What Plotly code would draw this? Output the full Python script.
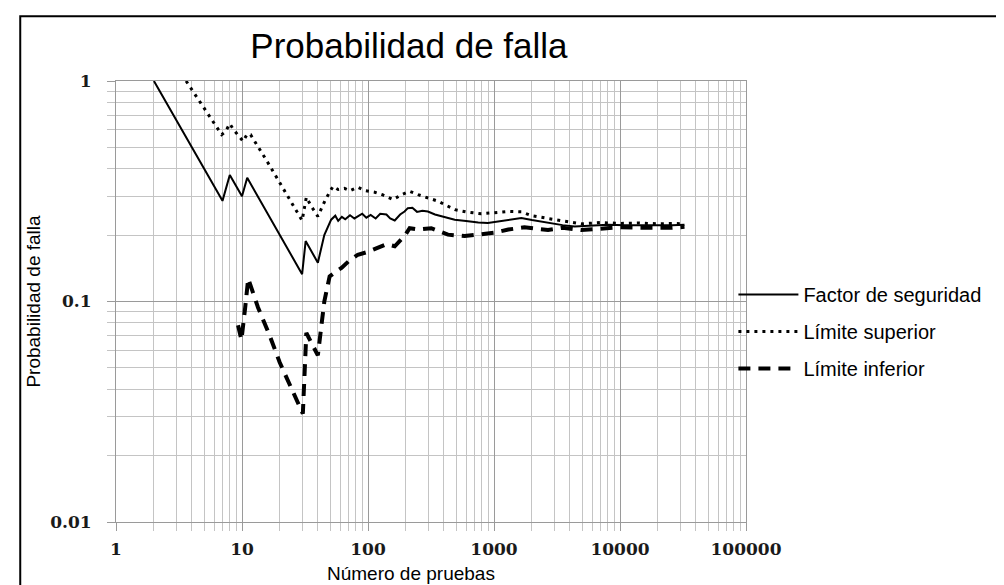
import plotly.graph_objects as go

# Factor de seguridad (estimated probability of failure)
n_fs = [2, 7, 8, 10, 11, 30, 32, 40, 45, 51, 55, 58, 62, 66, 72, 78, 83, 90, 97, 105,
        115, 125, 140, 150, 163, 180, 195, 207, 225, 245, 270, 299, 340, 400, 488, 600,
        750, 893, 1100, 1400, 1648, 2000, 2683, 3500, 4365, 6000, 8000, 11000, 15000,
        20000, 26000, 32500]
p_fs = [1.0, 0.286, 0.375, 0.30, 0.364, 0.133, 0.188, 0.150, 0.200, 0.235, 0.245, 0.232,
        0.242, 0.236, 0.246, 0.238, 0.243, 0.250, 0.240, 0.247, 0.238, 0.250, 0.248, 0.238,
        0.233, 0.248, 0.256, 0.265, 0.266, 0.255, 0.258, 0.256, 0.248, 0.242, 0.235, 0.232,
        0.228, 0.227, 0.231, 0.236, 0.239, 0.234, 0.227, 0.222, 0.219, 0.221, 0.223, 0.222,
        0.222, 0.221, 0.222, 0.223]

# Límite superior
n_sup = [3.6, 5.4, 6.45, 6.9, 7.4, 8.0, 8.6, 9.4, 10.2, 11.0, 11.7, 12.6, 15.9, 30, 32.4,
         35.5, 40, 46, 52.7, 58, 65, 72, 83, 95, 113, 130, 158, 185, 214, 250, 299, 360,
         488, 600, 793, 1000, 1300, 1648, 2000, 2683, 3500, 4936, 7000, 10000, 14000,
         20000, 26000, 32500]
p_sup = [1.0, 0.70, 0.606, 0.571, 0.59, 0.64, 0.60, 0.565, 0.533, 0.575, 0.571, 0.533,
         0.43, 0.233, 0.297, 0.27, 0.243, 0.29, 0.333, 0.322, 0.326, 0.318, 0.330, 0.318,
         0.313, 0.305, 0.29, 0.305, 0.316, 0.305, 0.296, 0.285, 0.261, 0.255, 0.25, 0.252,
         0.256, 0.255, 0.245, 0.238, 0.232, 0.225, 0.228, 0.226, 0.227, 0.225, 0.226, 0.225]

# Límite inferior
n_inf = [9.3, 9.9, 10.6, 11.2, 13.4, 16.6, 19.9, 24.6, 30.4, 32.4, 40, 45, 49.6, 55, 61.6,
         70, 83, 100, 120, 140, 163, 195, 214, 250, 318, 431, 585, 800, 1003, 1300, 1743,
         2683, 3500, 4936, 7000, 10000, 14000, 20000, 26000, 32500]
p_inf = [0.078, 0.067, 0.094, 0.127, 0.094, 0.070, 0.053, 0.040, 0.031, 0.072, 0.057, 0.100,
         0.130, 0.136, 0.142, 0.152, 0.163, 0.168, 0.175, 0.182, 0.178, 0.198, 0.215, 0.212,
         0.215, 0.201, 0.198, 0.202, 0.205, 0.212, 0.217, 0.211, 0.216, 0.211, 0.215, 0.217,
         0.216, 0.215, 0.216, 0.218]

x_ticks = [1, 10, 100, 1000, 10000, 100000]
x_labels = ["1", "10", "100", "1000", "10000", "100000"]
y_ticks = [0.01, 0.1, 1]
y_labels = ["0.01", "0.1", "1"]

SANS = "Arial, Liberation Sans, sans-serif"
SERIF = "DejaVu Serif, Liberation Serif, serif"

fig = go.Figure()
fig.add_trace(go.Scatter(x=n_fs, y=p_fs, mode="lines", name="Factor de seguridad",
                         legendgroup="a", line=dict(color="black", width=2)))
fig.add_trace(go.Scatter(x=n_sup, y=p_sup, mode="lines", name="Límite superior",
                         legendgroup="b", line=dict(color="black", width=3, dash="3px,5px")))
fig.add_trace(go.Scatter(x=n_inf, y=p_inf, mode="lines", name="Límite inferior",
                         legendgroup="c", line=dict(color="black", width=4, dash="12px,8px")))

axis_common = dict(
    type="log", showgrid=True,
    gridcolor="#9a9a9a", gridwidth=1, ticks="outside", ticklen=8, tickcolor="#9a9a9a",
    showline=True, linecolor="#9a9a9a", mirror=True, zeroline=False,
    tickfont=dict(family=SERIF, size=17, color="#1a1a1a", weight="bold"),
    minor=dict(dtick="D1", showgrid=True, gridcolor="#c4c4c4", ticks="outside",
               ticklen=8, tickcolor="#c4c4c4"),
)

fig.update_xaxes(range=[0, 5], tickvals=x_ticks, ticktext=x_labels,
                 ticklabelstandoff=4, **axis_common)
fig.update_yaxes(range=[-2, 0], tickvals=y_ticks, ticktext=y_labels,
                 ticklabelstandoff=12,
                 title=dict(text="Probabilidad de falla", standoff=4,
                            font=dict(family=SANS, size=19, color="black")),
                 **axis_common)

# x axis title (sits a little left of the plot centre in the original)
fig.add_annotation(text="Número de pruebas", xref="paper", yref="paper",
                   x=0.468, y=-0.117, xanchor="center", yanchor="middle",
                   showarrow=False, font=dict(family=SANS, size=19, color="black"))

# outer frame of the picture
fig.add_shape(type="rect", xref="paper", yref="paper",
              x0=-0.152, x1=1.411, y0=-0.2, y1=1.147,
              line=dict(color="black", width=2), layer="below")

fig.update_layout(
    width=1004, height=585, autosize=False,
    margin=dict(l=108, r=266, t=73, b=71),
    paper_bgcolor="white", plot_bgcolor="white",
    title=dict(text="Probabilidad de falla", xref="paper", x=0.465, xanchor="center",
               y=0.935, yanchor="middle",
               font=dict(family=SANS, size=35, color="black")),
    legend=dict(x=0.98, y=0.56, xanchor="left", yanchor="top",
                font=dict(family=SANS, size=20, color="black"),
                itemwidth=60, tracegroupgap=8, bgcolor="rgba(0,0,0,0)"),
    showlegend=True,
)

fig.write_html("out.html")
